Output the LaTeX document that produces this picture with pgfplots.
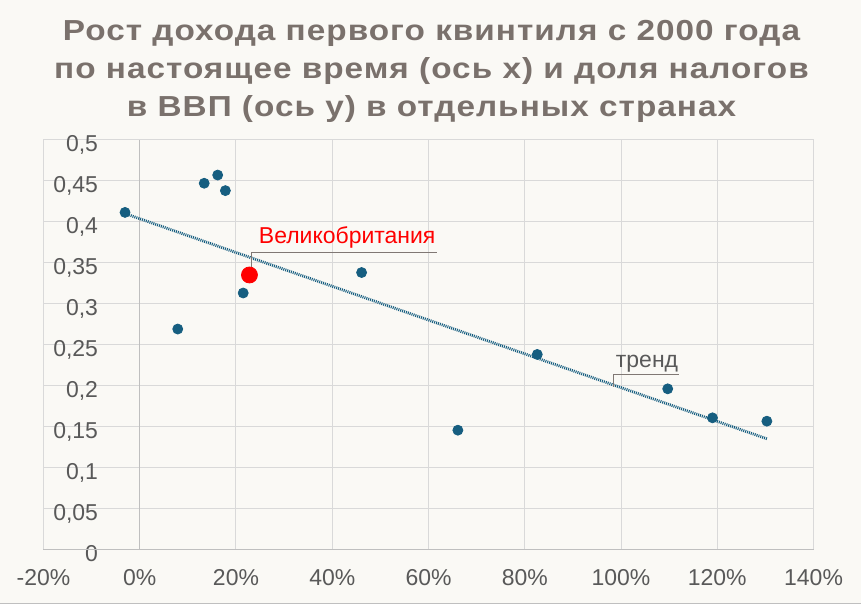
\documentclass[border=0pt]{standalone}
\usepackage{pgfplots}
\pgfplotsset{compat=1.18}
\usepackage{fontspec}
\setmainfont{Liberation Sans}
\newfontfamily\titlefont{Liberation Sans}[LetterSpace=3.5,FakeStretch=1.15]
\definecolor{bg}{RGB}{250,249,245}
\definecolor{titlec}{RGB}{122,113,108}
\definecolor{tickc}{RGB}{89,89,89}
\definecolor{gridc}{RGB}{217,217,217}
\definecolor{axisc}{RGB}{191,191,191}
\definecolor{dotc}{RGB}{22,94,128}
\definecolor{leadc}{RGB}{128,120,116}
\begin{document}
\begin{tikzpicture}
\path[fill=bg] (0,0) rectangle (430.5pt,302.5pt);
\draw[color=axisc,line width=0.5pt] (0,0.25pt) -- (430.5pt,0.25pt);
\node[anchor=base,inner sep=0pt,font=\titlefont\fontsize{14.5pt}{17pt}\selectfont\bfseries,text=titlec] at (215.75pt,282pt) {Рост дохода первого квинтиля с 2000 года};
\node[anchor=base,inner sep=0pt,font=\titlefont\fontsize{14.5pt}{17pt}\selectfont\bfseries,text=titlec] at (215.75pt,263pt) {по настоящее время (ось х) и доля налогов};
\node[anchor=base,inner sep=0pt,font=\titlefont\fontsize{14.5pt}{17pt}\selectfont\bfseries,text=titlec] at (215.75pt,244.25pt) {в ВВП (ось у) в отдельных странах};
\begin{axis}[
  at={(21.5pt,27.5pt)}, anchor=south west,
  scale only axis, width=385.5pt, height=205pt,
  xmin=-20, xmax=140, ymin=0, ymax=0.5,
  xtick={-20,0,20,40,60,80,100,120,140},
  xticklabels={-20\%,0\%,20\%,40\%,60\%,80\%,100\%,120\%,140\%},
  ytick={0,0.05,0.1,0.15,0.2,0.25,0.3,0.35,0.4,0.45,0.5},
  yticklabels={0,{0,05},{0,1},{0,15},{0,2},{0,25},{0,3},{0,35},{0,4},{0,45},{0,5}},
  grid=major,
  major grid style={color=gridc,line width=0.5pt},
  axis line style={draw=none},
  major tick length=0pt,
  tick label style={font=\fontsize{11.5pt}{13pt}\selectfont,text=tickc,inner sep=0pt},
  xticklabel style={anchor=base,yshift=-18.15pt},
  yticklabel style={anchor=base east,xshift=27.5pt,yshift=-5.9pt},
  clip=false,
]
\draw[color=axisc,line width=0.5pt] (axis cs:-20,0) -- (axis cs:140,0);
\draw[color=axisc,line width=0.5pt] (axis cs:0,0) -- (axis cs:0,0.5);
\addplot[color=dotc,line width=1.4pt,dash pattern=on 0.5pt off 0.5pt] coordinates {(-3.05,0.410) (130.3,0.135)};
\addplot[only marks,mark=*,mark size=2.5pt,color=dotc,mark options={draw=dotc,fill=dotc}] coordinates {
(-3.05,0.4114) (13.4,0.447) (16.2,0.457) (17.8,0.438) (7.9,0.269)
(21.5,0.313) (46.1,0.338) (66.1,0.1455) (82.6,0.238) (109.7,0.196)
(119.0,0.1606) (130.3,0.1565)};
\addplot[only marks,mark=*,mark size=4pt,color=red,mark options={draw=red,fill=red}] coordinates {(22.8,0.335)};
\draw[color=leadc,line width=0.5pt] (axis cs:23.17,0.3415) -- (axis cs:23.17,0.3628) -- (axis cs:61.76,0.3628);
\draw[color=leadc,line width=0.5pt] (axis cs:98.4,0.1988) -- (axis cs:98.4,0.2131) -- (axis cs:112.0,0.2131);
\node[anchor=base,inner sep=0pt,font=\fontsize{11.5pt}{13pt}\selectfont,text=red] at (axis cs:43.1,0.3740) {Великобритания};
\node[anchor=base,inner sep=0pt,font=\fontsize{11.5pt}{13pt}\selectfont,text=tickc] at (axis cs:105.4,0.2216) {тренд};
\end{axis}
\end{tikzpicture}
\end{document}
